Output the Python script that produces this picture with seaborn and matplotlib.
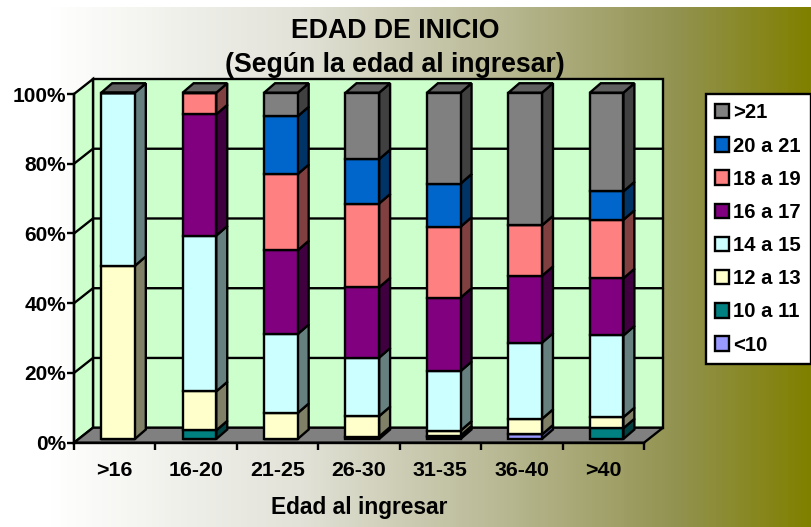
# -*- coding: utf-8 -*-
"""
Edad de inicio: 3D-look 100% stacked bars, with depth drawn from the bar patches.
"""
import numpy as np
import pandas as pd
import matplotlib.pyplot as plt
import seaborn as sns
from matplotlib.colors import LinearSegmentedColormap, to_rgb
from matplotlib.patches import Polygon

GROUPS = ['>16', '16-20', '21-25', '26-30', '31-35', '36-40', '>40']
SERIES = ['<10', '10 a 11', '12 a 13', '14 a 15', '16 a 17', '18 a 19', '20 a 21', '>21']

MENOS_10 = [0, 0, 0, 0.7, 0.5, 1.3, 0]
DE_10_11 = [0, 2.5, 0, 0, 0.5, 0, 3.1]
DE_12_13 = [50, 11.25, 7.5, 5.9, 1.4, 4.5, 3.2]
DE_14_15 = [50, 45, 22.8, 16.9, 17.2, 22.0, 23.6]
DE_16_17 = [0, 35, 24.2, 20.3, 21.2, 19.3, 16.5]
DE_18_19 = [0, 6.25, 22.0, 24.2, 20.5, 14.6, 16.9]
DE_20_21 = [0, 0, 16.7, 12.8, 12.45, 0, 8.2]
MAS_21 = [0, 0, 6.8, 19.2, 26.25, 38.3, 28.5]

COLORS = ['#9999FF', '#008080', '#FFFFCC', '#CCFFFF', '#800080', '#FF8080', '#0066CC', '#808080']

W, H = 811, 527
# front plane of the plot in pixels
LEFT, RIGHT, BASE, TOP = 74, 644, 442.7, 94
PX_X = (RIGHT - LEFT) / len(GROUPS)
PX_Y = (BASE - TOP) / 100
# depth of the box and of the bars, in data units
BOX_DX, BOX_DY = 19 / PX_X, 15 / PX_Y
BAR_DX, BAR_DY = 11 / PX_X, 9.5 / PX_Y
SHIFT_X, LIFT_Y, BAR_SCALE = 3.3 / PX_X, 3.7 / PX_Y, 0.993
LW = 1.7


def main():
    sns.set_style('white')
    plt.rcParams['font.family'] = ['Liberation Sans', 'DejaVu Sans']
    plt.rcParams['font.weight'] = 'bold'

    values = [MENOS_10, DE_10_11, DE_12_13, DE_14_15, DE_16_17, DE_18_19, DE_20_21, MAS_21]
    df = pd.DataFrame(dict(zip(SERIES, values)), index=GROUPS)
    bottoms = df.cumsum(axis=1).shift(1, axis=1).fillna(0)

    fig = plt.figure(figsize=(W / 100, H / 100), dpi=100)

    # page gradient, white to olive, with a white strip along the top
    bg = fig.add_axes([0, 0, 1, 1 - 7 / H], zorder=0)
    cmap = LinearSegmentedColormap.from_list('page', [
        (0, '#FFFFFF'), (0.06, '#FFFFFF'), (0.37, '#E2E2D8'),
        (0.62, '#B8B893'), (0.84, '#92924F'), (1, '#808000')])
    bg.imshow(np.linspace(0, 1, W).reshape(1, -1), aspect='auto', cmap=cmap, vmin=0, vmax=1)
    bg.axis('off')

    ax = fig.add_axes([LEFT / W, 1 - BASE / H, (RIGHT - LEFT) / W, (BASE - TOP) / H], zorder=1)
    ax.patch.set_alpha(0)

    for name, color in zip(SERIES, COLORS):
        sns.barplot(x=GROUPS, y=df[name].values, bottom=bottoms[name].values, color=color,
                    saturation=1, width=0.413, edgecolor='black', linewidth=LW, ax=ax,
                    label=name, legend=False, zorder=5, clip_on=False)

    x0, x1 = -0.5, len(GROUPS) - 0.5
    ax.set_xlim(x0, x1)
    ax.set_ylim(0, 100)

    # back wall, side wall, floor
    wall = dict(facecolor='#CCFFCC', edgecolor='black', linewidth=LW, clip_on=False, zorder=1)
    ax.add_patch(Polygon([(x0 + BOX_DX, BOX_DY), (x1 + BOX_DX, BOX_DY),
                          (x1 + BOX_DX, 100 + BOX_DY), (x0 + BOX_DX, 100 + BOX_DY)], **wall))
    ax.add_patch(Polygon([(x0, 0), (x0 + BOX_DX, BOX_DY),
                          (x0 + BOX_DX, 100 + BOX_DY), (x0, 100)], **wall))
    ax.add_patch(Polygon([(x0, 0), (x1, 0), (x1 + BOX_DX, BOX_DY), (x0 + BOX_DX, BOX_DY)],
                         facecolor='#808080', edgecolor='black', linewidth=LW,
                         clip_on=False, zorder=2))
    for tick in [20, 40, 60, 80]:
        ax.plot([x0, x0 + BOX_DX, x1 + BOX_DX], [tick, tick + BOX_DY, tick + BOX_DY],
                color='black', lw=LW, clip_on=False, zorder=2)

    # move bars into the box and add the shaded sides
    for container, color in zip(ax.containers, COLORS):
        r, g, b = to_rgb(color)
        for patch in container:
            patch.set_x(patch.get_x() + SHIFT_X)
            patch.set_y(patch.get_y() * BAR_SCALE + LIFT_Y)
            patch.set_height(patch.get_height() * BAR_SCALE)
            if patch.get_height() <= 0:
                continue
            xr = patch.get_x() + patch.get_width()
            y0, y1 = patch.get_y(), patch.get_y() + patch.get_height()
            ax.add_patch(Polygon([(xr, y0), (xr + BAR_DX, y0 + BAR_DY),
                                  (xr + BAR_DX, y1 + BAR_DY), (xr, y1)],
                                 facecolor=(r / 2, g / 2, b / 2), edgecolor='black',
                                 linewidth=LW, clip_on=False, zorder=4))
    # lid on each column
    for i in range(len(GROUPS)):
        top_idx = max(j for j in range(len(SERIES)) if df.iloc[i, j] > 0)
        patch = ax.containers[top_idx][i]
        xl = patch.get_x()
        xr = xl + patch.get_width()
        y1 = patch.get_y() + patch.get_height()
        ax.add_patch(Polygon([(xl, y1), (xr, y1), (xr + BAR_DX, y1 + BAR_DY), (xl + BAR_DX, y1 + BAR_DY)],
                             facecolor='#606060', edgecolor='black', linewidth=LW,
                             clip_on=False, zorder=4))

    sns.despine(ax=ax, top=True, right=True)
    for side in ['left', 'bottom']:
        ax.spines[side].set_linewidth(LW)
        ax.spines[side].set_color('black')
        ax.spines[side].set_zorder(3)

    ax.set_yticks([0, 20, 40, 60, 80, 100])
    ax.set_yticklabels(['0%', '20%', '40%', '60%', '80%', '100%'], fontsize=15, fontweight='bold')
    ax.tick_params(axis='y', left=True, length=5, width=LW, color='black', pad=0.5, labelcolor='black')
    ax.set_xticks(np.arange(x0, x1 + 1))
    ax.set_xticklabels([])
    ax.tick_params(axis='x', which='major', bottom=True, length=5, width=LW, color='black')
    ax.set_xticks(range(len(GROUPS)), minor=True)
    ax.set_xticklabels(GROUPS, minor=True, fontsize=15.4, fontweight='bold')
    ax.tick_params(axis='x', which='minor', bottom=False, pad=11, labelcolor='black')
    ax.set_xlabel('Edad al ingresar', fontsize=16.4, fontweight='bold', labelpad=11.5, color='black')
    ax.set_ylabel('')

    fig.text(395 / W, 1 - 31 / H, 'EDAD DE INICIO', fontsize=19.2, fontweight='bold',
             ha='center', va='center', color='black')
    fig.text(395 / W, 1 - 65 / H, '(Según la edad al ingresar)', fontsize=19.2, fontweight='bold',
             ha='center', va='center', color='black')

    handles = [ax.containers[i][0] for i in range(len(SERIES) - 1, -1, -1)]
    leg = fig.legend(handles, SERIES[::-1], loc='upper left',
                     bbox_to_anchor=(705.5 / W, 1 - 94 / H), bbox_transform=fig.transFigure,
                     fontsize=14.6, frameon=True, fancybox=False, framealpha=1, facecolor='white',
                     edgecolor='black', handlelength=0.72, handleheight=0.72, handletextpad=0.2,
                     labelspacing=0.7, borderpad=0.46, borderaxespad=0)
    leg.get_frame().set_linewidth(LW)
    for text in leg.get_texts():
        text.set_fontweight('bold')
        text.set_color('black')

    fig.savefig('out.png', dpi=100)
    plt.close(fig)


if __name__ == "__main__":
    main()
